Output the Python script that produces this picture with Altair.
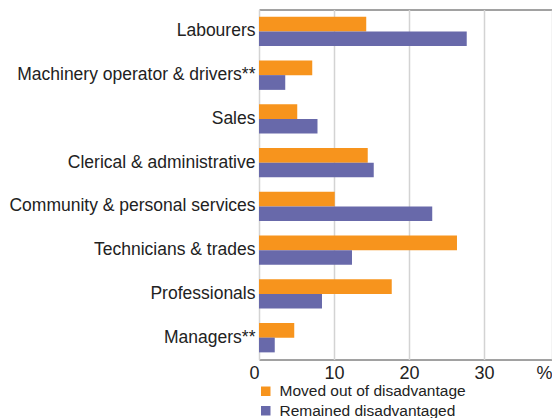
import altair as alt
import pandas as pd

categories = [
    "Labourers",
    "Machinery operator & drivers**",
    "Sales",
    "Clerical & administrative",
    "Community & personal services",
    "Technicians & trades",
    "Professionals",
    "Managers**",
]
moved_out = [14.3, 7.1, 5.1, 14.5, 10.1, 26.4, 17.7, 4.7]
remained = [27.7, 3.5, 7.8, 15.3, 23.1, 12.4, 8.4, 2.1]
series = ["Moved out of disadvantage", "Remained disadvantaged"]
colors = ["#F7941D", "#6869AA"]
x_max = 39.07
x_ticks = [0, 10, 20, 30, x_max]

rows = []
for c, m, r in zip(categories, moved_out, remained):
    rows.append({"category": c, "series": series[0], "value": m})
    rows.append({"category": c, "series": series[1], "value": r})
df = pd.DataFrame(rows)

chart = (
    alt.Chart(df)
    .mark_bar()
    .encode(
        y=alt.Y(
            "category:N",
            sort=categories,
            scale=alt.Scale(paddingInner=0.326, paddingOuter=0.163),
            axis=alt.Axis(
                title=None,
                ticks=False,
                domain=False,
                labelFontSize=17.5,
                labelPadding=4,
                labelColor="#222222",
                labelLimit=0,
            ),
        ),
        yOffset=alt.YOffset("series:N", sort=series),
        x=alt.X(
            "value:Q",
            scale=alt.Scale(domain=[0, x_max], nice=False),
            axis=alt.Axis(
                values=x_ticks,
                title=None,
                labelExpr="datum.value > 35 ? '%' : datum.label",
                labelAlign={"expr": "datum.value == 0 || datum.value > 35 ? 'right' : 'center'"},
                grid=True,
                gridColor="#d3d3d3",
                gridWidth=1.5,
                ticks=False,
                domain=False,
                labelFontSize=18,
                labelPadding=5,
                labelColor="#222222",
            ),
        ),
        color=alt.Color(
            "series:N",
            sort=series,
            scale=alt.Scale(domain=series, range=colors),
            legend=alt.Legend(
                title=None,
                orient="none",
                legendX=-1,
                legendY=374,
                symbolType="square",
                symbolSize=90,
                symbolStrokeWidth=0,
                labelFontSize=15.5,
                labelColor="#222222",
                labelLimit=0,
                rowPadding=2.5,
                padding=0,
                labelOffset=6,
            ),
        ),
    )
    .properties(
        width=293,
        height=350,
        padding={"left": 251, "top": 1.5, "right": 0, "bottom": 58},
        autosize=alt.AutoSizeParams(type="none"),
    )
    .configure(font="Liberation Sans")
    .configure_view(stroke="#444444", strokeWidth=1)
)

chart.save("out.html", embed_options={"renderer": "svg", "actions": False})
